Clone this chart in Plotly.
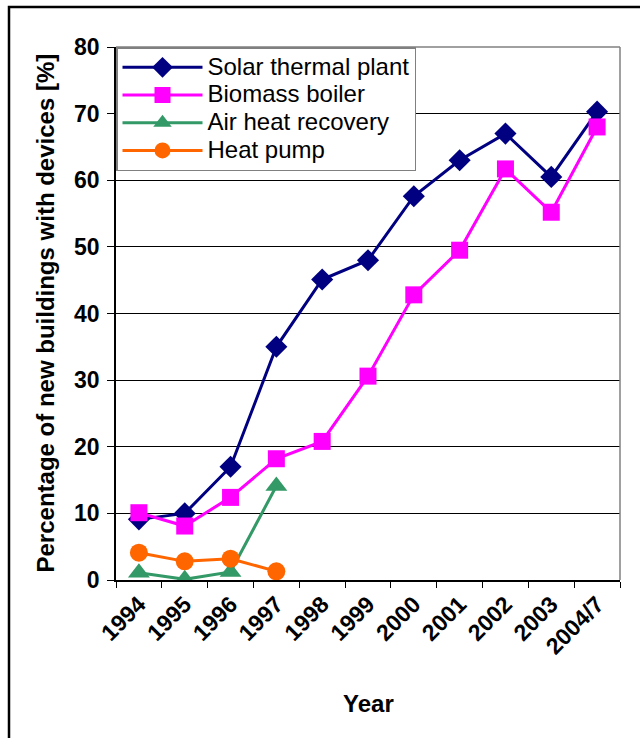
import plotly.graph_objects as go

# Share of new buildings equipped with each device type, by year
years = ["1994", "1995", "1996", "1997", "1998", "1999", "2000", "2001", "2002", "2003", "2004/7"]
solar_thermal = [9.1, 10.0, 17.0, 35.0, 45.1, 48.0, 57.6, 63.0, 67.0, 60.5, 70.3]
biomass_boiler = [10.1, 8.1, 12.4, 18.2, 20.8, 30.6, 42.8, 49.5, 61.7, 55.2, 68.0]
air_heat_recovery = [1.1, 0.1, 1.2, 14.1]
heat_pump = [4.1, 2.8, 3.2, 1.3]

W, H = 640, 738
ML, MR, MT, MB = 116, 20, 47, 158
PW, PH = W - ML - MR, H - MT - MB

FONT = "Liberation Sans, Arial, sans-serif"


def px_x(px):
    return (px - ML) / PW


def px_y(py):
    return (H - MB - py) / PH


series = [
    ("Solar thermal plant", years, solar_thermal, "#000080", "diamond", 17),
    ("Biomass boiler", years, biomass_boiler, "#FF00FF", "square", 17),
    ("Air heat recovery", years[:len(air_heat_recovery)], air_heat_recovery, "#339966", "triangle-up", 19),
    ("Heat pump", years[:len(heat_pump)], heat_pump, "#FF6600", "circle", 18),
]

fig = go.Figure()
for name, xs, ys, color, symbol, size in series:
    fig.add_trace(go.Scatter(
        x=xs, y=ys, mode="lines+markers",
        name="<span style='font-size:24px'>%s</span>" % name,
        line=dict(color=color, width=3),
        marker=dict(symbol=symbol, size=size, color=color, line=dict(width=0)),
    ))

fig.update_layout(
    width=W, height=H,
    margin=dict(l=ML, r=MR, t=MT, b=MB, pad=0),
    paper_bgcolor="white", plot_bgcolor="white",
    font=dict(family=FONT, color="black"),
    showlegend=True,
    legend=dict(
        x=0, y=1, xanchor="left", yanchor="top",
        bgcolor="white", bordercolor="#808080", borderwidth=1.5,
        font=dict(family=FONT, size=19, color="black"),
        itemwidth=80, tracegroupgap=0,
    ),
    xaxis=dict(
        type="category", categoryorder="array", categoryarray=years,
        range=[-0.5, len(years) - 0.5],
        showline=True, linecolor="black", linewidth=1.5,
        ticks="outside", tickson="boundaries", ticklen=6, tickcolor="black", tickwidth=1,
        tickangle=-45, showgrid=False, zeroline=False,
        tickfont=dict(family=FONT, size=23, color="black", weight="bold"),
    ),
    yaxis=dict(
        range=[0, 80], tickvals=[0, 10, 20, 30, 40, 50, 60, 70, 80],
        showline=True, linecolor="black", linewidth=1.5,
        ticks="outside", ticklen=7, tickcolor="black", tickwidth=1,
        ticklabelstandoff=3,
        showgrid=True, gridcolor="black", gridwidth=1, zeroline=False,
        tickfont=dict(family=FONT, size=23, color="black", weight="bold"),
    ),
    annotations=[
        dict(text="Percentage of new buildings with devices [%]", textangle=-90,
             xref="paper", yref="paper", x=px_x(45), y=0.5,
             xanchor="center", yanchor="middle", showarrow=False,
             font=dict(family=FONT, size=24, color="black", weight="bold")),
        dict(text="Year", xref="paper", yref="paper", x=0.5, y=px_y(703),
             xanchor="center", yanchor="middle", showarrow=False,
             font=dict(family=FONT, size=24, color="black", weight="bold")),
    ],
    shapes=[
        # grey top and right edges of the plot area
        dict(type="line", xref="paper", yref="paper", x0=0, x1=1, y0=1, y1=1,
             line=dict(color="#808080", width=1.5), layer="above"),
        dict(type="line", xref="paper", yref="paper", x0=1, x1=1, y0=0, y1=1,
             line=dict(color="#808080", width=1.5), layer="above"),
        # outer frame around the whole chart
        dict(type="rect", xref="paper", yref="paper",
             x0=px_x(9), x1=px_x(W + 10), y0=px_y(H + 10), y1=px_y(7),
             line=dict(color="black", width=2.5), layer="below"),
    ],
)

fig.write_html("out.html")
